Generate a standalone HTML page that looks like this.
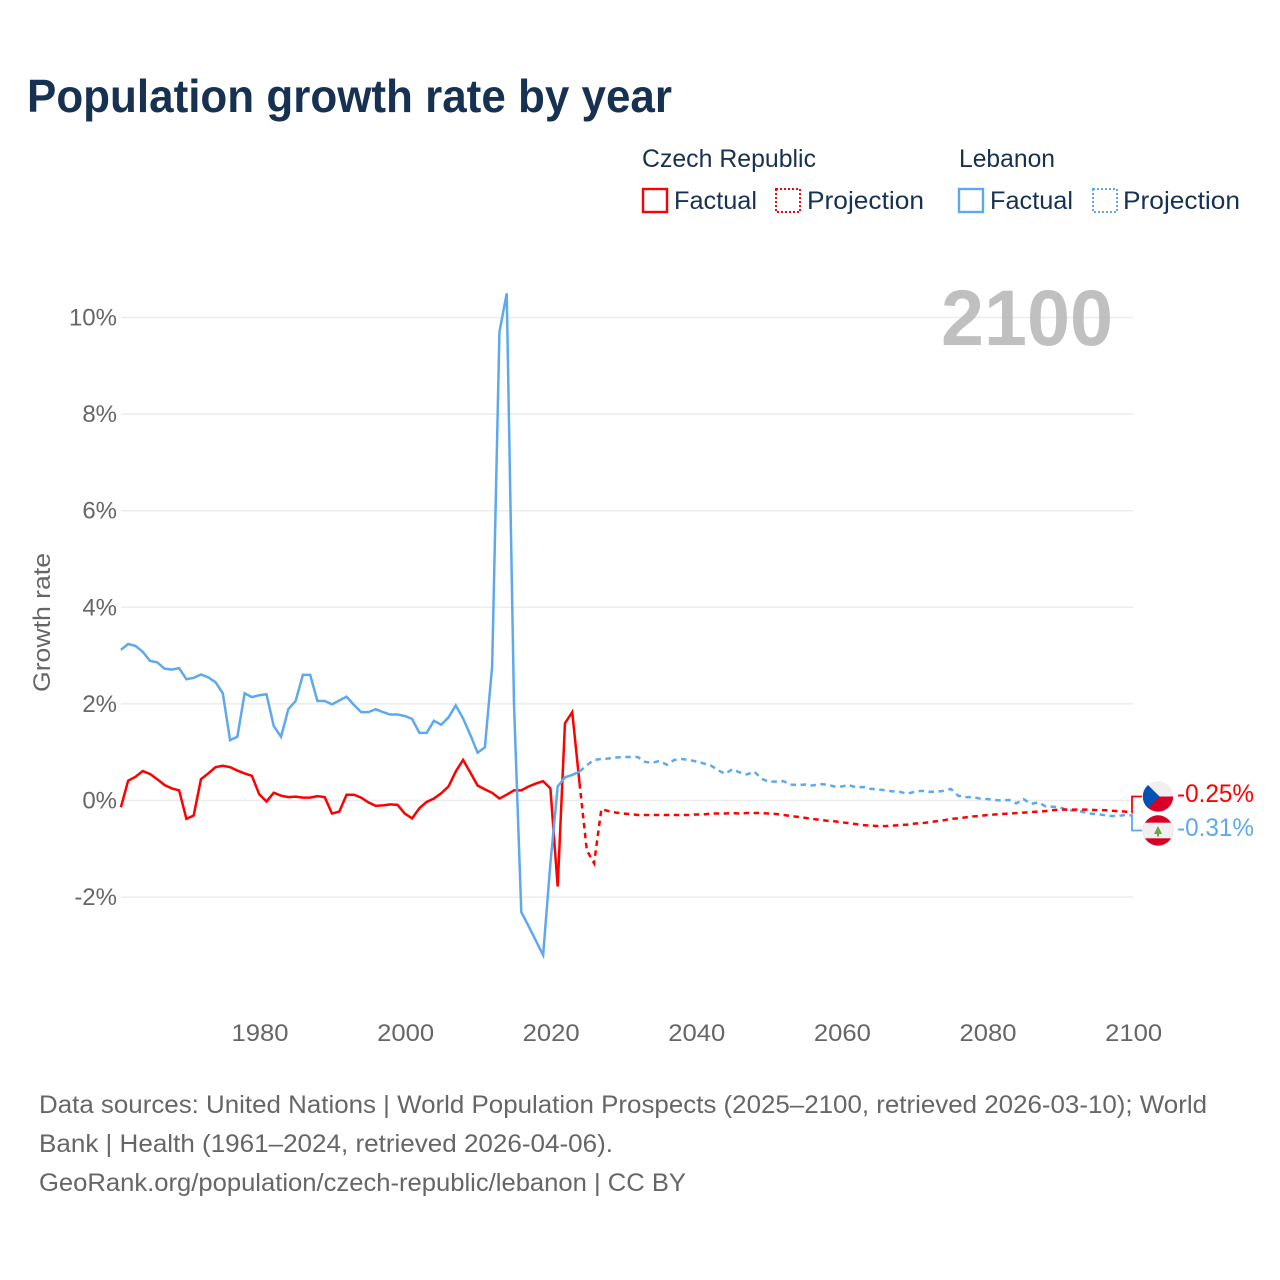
<!DOCTYPE html>
<html lang="en">
<head>
<meta charset="utf-8">
<title>Population growth rate by year</title>
<style>
  html, body { margin: 0; padding: 0; background: #fff; }
  svg { display: block; }
  text { font-family: "Liberation Sans", sans-serif; }
  .tick { font-size: 24px; fill: #666; }
  .legend { font-size: 25px; fill: #173152; }
  .foot { font-size: 25px; fill: #666; }
</style>
</head>
<body>
<svg id="chart" xmlns="http://www.w3.org/2000/svg" width="1280" height="1280" viewBox="0 0 1280 1280">
  <defs>
    <clipPath id="clip-cz"><circle cx="1158" cy="796.5" r="15.2"/></clipPath>
    <clipPath id="clip-lb"><circle cx="1158" cy="830.5" r="15.2"/></clipPath>
  </defs>
  <rect x="0" y="0" width="1280" height="1280" fill="#fff"/>

  <text x="27" y="112" font-size="46.5" font-weight="700" fill="#173152" textLength="645" lengthAdjust="spacingAndGlyphs">Population growth rate by year</text>

  <g>
    <text class="legend" x="642" y="167" textLength="174" lengthAdjust="spacingAndGlyphs">Czech Republic</text>
    <text class="legend" x="959" y="167" textLength="96" lengthAdjust="spacingAndGlyphs">Lebanon</text>
    <rect x="643" y="189" width="24" height="23" fill="none" stroke="#ff0000" stroke-width="2.4"/>
    <text class="legend" x="674" y="209" textLength="83" lengthAdjust="spacingAndGlyphs">Factual</text>
    <rect x="776" y="189" width="24" height="23" fill="none" stroke="#ff0000" stroke-width="2" stroke-dasharray="2 2"/>
    <text class="legend" x="807" y="209" textLength="117" lengthAdjust="spacingAndGlyphs">Projection</text>
    <rect x="959" y="189" width="24" height="23" fill="none" stroke="#5ea9ee" stroke-width="2.4"/>
    <text class="legend" x="990" y="209" textLength="83" lengthAdjust="spacingAndGlyphs">Factual</text>
    <rect x="1093" y="189" width="24" height="23" fill="none" stroke="#5ea9ee" stroke-width="2" stroke-dasharray="2 2"/>
    <text class="legend" x="1123" y="209" textLength="117" lengthAdjust="spacingAndGlyphs">Projection</text>
  </g>

  <g id="grid"></g>

  <text x="941" y="345" font-size="79" font-weight="700" fill="#b9b9b9" fill-opacity="0.9" textLength="172" lengthAdjust="spacingAndGlyphs">2100</text>

  <g id="y-axis"></g>
  <g id="x-axis"></g>
  <text x="0" y="0" font-size="24" fill="#666" transform="translate(50 692) rotate(-90)" textLength="139" lengthAdjust="spacingAndGlyphs">Growth rate</text>

  <g id="series"></g>

  <g>
    <path id="conn-cz" fill="none" stroke="#ff0000" stroke-width="1.8"/>
    <path id="conn-lb" fill="none" stroke="#5ea9ee" stroke-width="1.8"/>
    <g clip-path="url(#clip-cz)">
      <rect x="1142" y="781" width="32" height="15.5" fill="#f0f0f0"/>
      <rect x="1142" y="796.5" width="32" height="16" fill="#d80027"/>
      <path d="M1142 781 L1144 781 L1159.5 796.5 L1144 812 L1142 812 Z" fill="#0052b4"/>
    </g>
    <g clip-path="url(#clip-lb)">
      <rect x="1142" y="815" width="32" height="31" fill="#d80027"/>
      <rect x="1142" y="822.7" width="32" height="15.6" fill="#f0f0f0"/>
      <path d="M1158 826 L1162 834 L1159 834 L1159 836.5 L1157 836.5 L1157 834 L1154 834 Z" fill="#6da544"/>
    </g>
    <text id="label-cz" x="1177" y="802" font-size="25" fill="#ff0000" textLength="77" lengthAdjust="spacingAndGlyphs"></text>
    <text id="label-lb" x="1177" y="836" font-size="25" fill="#5ea9ee" textLength="77" lengthAdjust="spacingAndGlyphs"></text>
  </g>

  <g>
    <text class="foot" x="39" y="1113" textLength="1168" lengthAdjust="spacingAndGlyphs">Data sources: United Nations | World Population Prospects (2025–2100, retrieved 2026-03-10); World</text>
    <text class="foot" x="39" y="1152" textLength="574" lengthAdjust="spacingAndGlyphs">Bank | Health (1961–2024, retrieved 2026-04-06).</text>
    <text class="foot" x="39" y="1191" textLength="647" lengthAdjust="spacingAndGlyphs">GeoRank.org/population/czech-republic/lebanon | CC BY</text>
  </g>
</svg>
<script>
const factualStartYear = 1961;
const projectionStartYear = 2024;
const yTicks = [-2, 0, 2, 4, 6, 8, 10];
const xTicks = [1980, 2000, 2020, 2040, 2060, 2080, 2100];

const czechFactual = [
  -0.14, 0.41, 0.49, 0.61, 0.55, 0.44, 0.32, 0.25, 0.21, -0.38,
  -0.31, 0.44, 0.56, 0.69, 0.72, 0.69, 0.62, 0.56, 0.51, 0.13,
  -0.02, 0.16, 0.10, 0.07, 0.08, 0.06, 0.06, 0.09, 0.07, -0.27,
  -0.23, 0.12, 0.12, 0.06, -0.04, -0.11, -0.10, -0.08, -0.09, -0.27,
  -0.37, -0.16, -0.03, 0.04, 0.15, 0.29, 0.60, 0.84, 0.58, 0.31,
  0.23, 0.16, 0.04, 0.12, 0.21, 0.21, 0.29, 0.35, 0.40, 0.25,
  -1.78, 1.60, 1.83, 0.36
];
const czechProjection = [
  0.36, -1.03, -1.30, -0.18, -0.22, -0.25, -0.27, -0.28, -0.30, -0.30,
  -0.30, -0.30, -0.30, -0.30, -0.30, -0.30, -0.29, -0.29, -0.27, -0.27,
  -0.27, -0.26, -0.27, -0.26, -0.26, -0.26, -0.27, -0.28, -0.30, -0.32,
  -0.34, -0.36, -0.38, -0.40, -0.42, -0.43, -0.45, -0.47, -0.49, -0.51,
  -0.52, -0.53, -0.53, -0.52, -0.51, -0.50, -0.48, -0.47, -0.45, -0.43,
  -0.41, -0.38, -0.37, -0.35, -0.33, -0.32, -0.30, -0.29, -0.28, -0.27,
  -0.26, -0.25, -0.24, -0.23, -0.22, -0.20, -0.19, -0.19, -0.19, -0.19,
  -0.19, -0.20, -0.20, -0.21, -0.22, -0.23, -0.25
];
const lebanonFactual = [
  3.12, 3.24, 3.20, 3.08, 2.89, 2.86, 2.73, 2.71, 2.74, 2.51,
  2.54, 2.61, 2.55, 2.45, 2.22, 1.25, 1.32, 2.22, 2.14, 2.18,
  2.20, 1.54, 1.32, 1.89, 2.06, 2.60, 2.60, 2.06, 2.06, 1.99,
  2.07, 2.15, 1.98, 1.83, 1.83, 1.89, 1.83, 1.78, 1.78, 1.75,
  1.69, 1.40, 1.40, 1.65, 1.57, 1.72, 1.97, 1.70, 1.36, 0.99,
  1.10, 2.78, 9.70, 10.50, 2.00, -2.31, -2.60, -2.90, -3.20, -1.30,
  0.29, 0.48, 0.53, 0.60
];
const lebanonProjection = [
  0.60, 0.73, 0.84, 0.86, 0.87, 0.89, 0.90, 0.90, 0.90, 0.80,
  0.78, 0.82, 0.74, 0.84, 0.86, 0.84, 0.81, 0.77, 0.73, 0.63,
  0.55, 0.65, 0.58, 0.54, 0.60, 0.45, 0.39, 0.39, 0.40, 0.33,
  0.32, 0.33, 0.31, 0.34, 0.33, 0.29, 0.29, 0.32, 0.27, 0.28,
  0.24, 0.23, 0.21, 0.19, 0.18, 0.14, 0.18, 0.20, 0.18, 0.18,
  0.20, 0.24, 0.10, 0.07, 0.07, 0.04, 0.03, 0.01, 0.00, 0.01,
  -0.06, 0.03, -0.07, -0.04, -0.12, -0.13, -0.14, -0.20, -0.21, -0.23,
  -0.27, -0.28, -0.30, -0.32, -0.32, -0.30, -0.31
];

const RED = '#ff0000';
const BLUE = '#5ea9ee';
const NS = 'http://www.w3.org/2000/svg';

function xScale(year) { return 259.2 + (year - 1980) * 7.28; }
function yScale(value) { return 800.5 - value * 48.3; }

const grid = document.getElementById('grid');
const yAxis = document.getElementById('y-axis');
const xAxis = document.getElementById('x-axis');
const seriesGroup = document.getElementById('series');

yTicks.forEach(function (tick) {
  const line = document.createElementNS(NS, 'line');
  
  
  line.setAttribute('x1', 121);
  line.setAttribute('x2', 1133);
  line.setAttribute('y1', yScale(tick));
  line.setAttribute('y2', yScale(tick));
  line.setAttribute('stroke', '#ececec');
  line.setAttribute('stroke-width', 1.5);
  grid.appendChild(line);

  const label = document.createElementNS(NS, 'text');
  
  
  label.setAttribute('class', 'tick');
  label.setAttribute('x', 117);
  label.setAttribute('y', yScale(tick) + 8);
  label.setAttribute('text-anchor', 'end');
  label.textContent = tick + '%';
  yAxis.appendChild(label);
});

xTicks.forEach(function (tick) {
  const label = document.createElementNS(NS, 'text');
  
  
  label.setAttribute('class', 'tick');
  label.setAttribute('x', xScale(tick) + 0.8);
  label.setAttribute('y', 1041);
  label.setAttribute('text-anchor', 'middle');
  label.setAttribute('textLength', 57);
  label.setAttribute('lengthAdjust', 'spacingAndGlyphs');
  label.textContent = tick;
  xAxis.appendChild(label);
});

function toPoints(values, startYear) {
  return values.map(function (value, i) {
    return xScale(startYear + i).toFixed(2) + ',' + yScale(value).toFixed(2);
  }).join(' ');
}

function drawSeries(values, startYear, color, dashed, name) {
  const line = document.createElementNS(NS, 'polyline');
  
  
  line.setAttribute('points', toPoints(values, startYear));
  line.setAttribute('fill', 'none');
  line.setAttribute('stroke', color);
  line.setAttribute('stroke-width', 2.5);
  line.setAttribute('stroke-linejoin', 'miter');
  if (dashed) { line.setAttribute('stroke-dasharray', '5.5 4.5'); }
  seriesGroup.appendChild(line);
}

drawSeries(czechFactual, factualStartYear, RED, false, 'line-czech-factual');
drawSeries(lebanonFactual, factualStartYear, BLUE, false, 'line-lebanon-factual');
drawSeries(lebanonProjection, projectionStartYear, BLUE, true, 'line-lebanon-projection');
drawSeries(czechProjection, projectionStartYear, RED, true, 'line-czech-projection');

const czechLast = czechProjection[czechProjection.length - 1];
const lebanonLast = lebanonProjection[lebanonProjection.length - 1];
document.getElementById('label-cz').textContent = czechLast.toFixed(2) + '%';
document.getElementById('label-lb').textContent = lebanonLast.toFixed(2) + '%';
document.getElementById('conn-cz').setAttribute('d', 'M1132 ' + yScale(czechLast) + ' V796.5 H1142');
document.getElementById('conn-lb').setAttribute('d', 'M1132 ' + yScale(lebanonLast) + ' V830.5 H1142');
</script>
</body>
</html>
